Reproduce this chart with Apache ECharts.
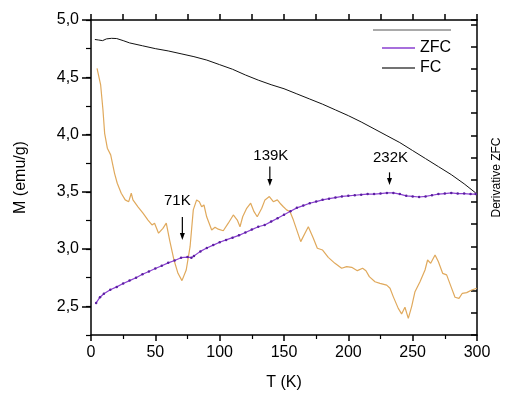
<!DOCTYPE html>
<html>
<head>
<meta charset="utf-8">
<script src="https://cdn.jsdelivr.net/npm/echarts@6/dist/echarts.min.js"></script>
<style>
  html, body { margin: 0; padding: 0; background: #fff; }
  #chart { width: 511px; height: 400px; }
</style>
</head>
<body>
<div id="chart"></div>
<script>
// ZFC magnetisation (emu/g) vs T (K)
var zfcTemp = [4, 7, 10, 15, 20, 25, 30, 35, 40, 45, 50, 55, 60, 65, 70, 75, 78, 80, 85, 90, 95, 100,
  105, 110, 115, 120, 125, 130, 135, 140, 145, 150, 155, 160, 165, 170, 175, 180, 185, 190, 195, 200,
  205, 210, 215, 220, 225, 230, 235, 240, 245, 250, 255, 260, 265, 270, 275, 280, 285, 290, 295, 299];
var zfcMag = [2.53, 2.58, 2.61, 2.645, 2.67, 2.70, 2.725, 2.75, 2.78, 2.805, 2.83, 2.855, 2.88, 2.90, 2.925, 2.93, 2.925, 2.94, 2.98, 3.01, 3.035, 3.06,
  3.08, 3.10, 3.12, 3.145, 3.17, 3.195, 3.21, 3.24, 3.27, 3.30, 3.33, 3.36, 3.38, 3.40, 3.415, 3.43, 3.44, 3.45, 3.46, 3.465,
  3.47, 3.475, 3.48, 3.48, 3.485, 3.49, 3.49, 3.48, 3.465, 3.46, 3.455, 3.46, 3.47, 3.48, 3.485, 3.49, 3.485, 3.485, 3.48, 3.48];

// FC magnetisation
var fcTemp = [3, 6, 9, 12, 16, 20, 25, 30, 40, 50, 60, 70, 80, 90, 100, 110, 120, 130, 140, 150,
  160, 170, 180, 190, 200, 210, 220, 230, 240, 250, 260, 270, 280, 290, 299];
var fcMag = [4.83, 4.825, 4.82, 4.835, 4.84, 4.838, 4.82, 4.80, 4.775, 4.75, 4.73, 4.705, 4.68, 4.65, 4.61, 4.57, 4.52, 4.475, 4.435, 4.40,
  4.355, 4.31, 4.265, 4.215, 4.165, 4.11, 4.05, 3.99, 3.93, 3.86, 3.79, 3.72, 3.65, 3.57, 3.49];

// derivative of ZFC (arbitrary units, right axis)
var derivTemp = [4.7, 7.5, 9.3, 10.6, 12.7, 15.3, 16.3, 18.3, 20.4, 23.5, 26.6, 29.3, 31.3, 32.6, 36.5, 40.4, 44.3, 47.4, 49.4,
  52.5, 55.9, 58.5, 61.1, 64.5, 67.6, 70.7, 74, 77, 79.5, 82.1, 84.2, 86, 87.8, 89.9, 93.8, 96.4, 98.9, 102.8,
  106.7, 110.6, 113.7, 115.8, 117.9, 121, 124.1, 126.7, 129.2, 132.7, 135.2, 138.6, 141.7, 144.8, 146.9, 149.5,
  152, 154.7, 157.3, 163, 166.3, 168.9, 172.8, 175.9, 180, 184.4, 189.6, 194.8, 198.7, 202.6, 207, 211.1, 213.7,
  216.3, 220.7, 224.6, 229.8, 232.4, 234.9, 238.8, 241.4, 244, 246.6, 249.2, 251.8, 255.7, 259.6, 261.6, 264,
  267.4, 270, 273.3, 276.4, 279.8, 282.9, 286, 288.6, 292, 295.9, 299.8];
var deriv = [12.02, 11.27, 10.14, 9.09, 8.42, 8.12, 8.04, 7.29, 6.84, 6.39, 6.09, 6.01, 6.39, 6.09, 5.78, 5.49, 5.18, 4.96, 5.04,
  4.59, 4.81, 5.04, 4.28, 3.38, 2.78, 2.45, 2.93, 3.98, 5.64, 6.09, 6.01, 5.78, 5.86, 5.33, 4.73, 4.86, 4.77, 4.70,
  5.04, 5.41, 5.18, 4.88, 5.33, 5.71, 5.94, 5.56, 5.33, 5.71, 6.09, 6.24, 6.01, 6.09, 5.94, 5.78,
  5.64, 5.56, 5.18, 4.21, 4.59, 4.88, 4.36, 3.91, 3.83, 3.50, 3.23, 3.01, 3.08, 3.05, 2.90, 3.01, 2.90,
  2.63, 2.40, 2.33, 2.25, 2.11, 1.73, 1.20, 0.95, 1.25, 0.75, 1.28, 1.95, 2.40, 2.93, 3.38, 3.23,
  3.61, 3.30, 2.78, 2.71, 2.18, 1.70, 1.65, 1.88, 1.91, 2.03, 2.11];

var xTicks = [0, 50, 100, 150, 200, 250, 300];
var yTicks = [2.5, 3.0, 3.5, 4.0, 4.5, 5.0];

// transition markers: temperature, label, arrow tip / tail and label height (emu/g)
var markTemp = [71, 139, 232];
var markLabel = ['71K', '139K', '232K'];
var markTip = [3.08, 3.55, 3.56];
var markTail = [3.28, 3.72, 3.67];
var markText = [3.42, 3.81, 3.80];

function pairs(xs, ys) {
  return xs.map(function (x, i) { return [x, ys[i]]; });
}

var font = 'Arial, "Liberation Sans", sans-serif';
var black = '#000';

var chart = echarts.init(document.getElementById('chart'));

var option = {
  animation: false,
  backgroundColor: '#fff',
  textStyle: { fontFamily: font, color: black },
  grid: { left: 91, right: 34, top: 20, bottom: 65 },
  legend: {
    orient: 'vertical',
    left: 377,
    top: 35,
    icon: 'rect',
    itemWidth: 33,
    itemHeight: 1.5,
    itemGap: 4,
    textStyle: { fontFamily: font, fontSize: 16, color: black },
    data: [
      { name: 'ZFC', itemStyle: { color: '#8a3fd0' } },
      { name: 'FC', itemStyle: { color: '#444' } }
    ]
  },
  xAxis: [{
    type: 'value',
    position: 'bottom',
    min: 0, max: 300, interval: 50,
    name: 'T (K)', nameLocation: 'middle', nameGap: 40,
    nameTextStyle: { fontSize: 16, fontFamily: font, color: black },
    axisLine: { onZero: false, lineStyle: { color: black, width: 1.5 } },
    axisTick: { length: 6, lineStyle: { color: black, width: 1.5 } },
    minorTick: { show: true, splitNumber: 2, length: 4, lineStyle: { color: black, width: 1.2 } },
    axisLabel: { fontSize: 16, color: black, margin: 10, customValues: xTicks },
    splitLine: { show: false }
  }, {
    type: 'value',
    position: 'top',
    min: 0, max: 300, interval: 25,
    axisLine: { onZero: false, lineStyle: { color: black, width: 1.5 } },
    axisTick: { length: 6, lineStyle: { color: black, width: 1.5 } },
    axisLabel: { show: false },
    splitLine: { show: false }
  }],
  yAxis: [{
    type: 'value',
    position: 'left',
    min: 2.25, max: 5, interval: 0.25,
    name: 'M (emu/g)', nameLocation: 'middle', nameGap: 62, nameRotate: 90,
    nameTextStyle: { fontSize: 16, fontFamily: font, color: black },
    axisLine: { show: true, onZero: false, lineStyle: { color: black, width: 1.5 } },
    axisTick: { show: true, length: 9, customValues: yTicks, lineStyle: { color: black, width: 1.5 } },
    axisLabel: {
      fontSize: 16, color: black, margin: 12, customValues: yTicks,
      formatter: function (v) { return v.toFixed(1).replace('.', ','); }
    },
    splitLine: { show: false }
  }, {
    // minor ticks of the left axis
    type: 'value',
    position: 'left',
    min: 2.25, max: 5, interval: 0.25,
    axisLine: { show: false, onZero: false },
    axisTick: { show: true, length: 5, lineStyle: { color: black, width: 1.2 } },
    axisLabel: { show: false },
    splitLine: { show: false }
  }, {
    type: 'value',
    position: 'right',
    min: 0, max: 14.2, interval: 1,
    name: 'Derivative ZFC', nameLocation: 'middle', nameGap: 14, nameRotate: 90,
    nameTextStyle: { fontSize: 12, fontFamily: font, color: black },
    axisLine: { show: true, onZero: false, lineStyle: { color: black, width: 1.5 } },
    axisTick: { show: true, inside: true, length: 6, lineStyle: { color: black, width: 1.5 } },
    axisLabel: { show: false },
    splitLine: { show: false }
  }],
  series: [{
    name: 'Derivative',
    type: 'line',
    yAxisIndex: 2,
    data: pairs(derivTemp, deriv),
    showSymbol: false,
    lineStyle: { color: '#e0a95c', width: 1.2 },
    itemStyle: { color: '#e0a95c' },
    z: 2
  }, {
    name: 'FC',
    type: 'line',
    yAxisIndex: 0,
    data: pairs(fcTemp, fcMag),
    showSymbol: false,
    lineStyle: { color: '#111', width: 1 },
    itemStyle: { color: '#111' },
    z: 3
  }, {
    name: 'ZFC',
    type: 'line',
    yAxisIndex: 0,
    data: pairs(zfcTemp, zfcMag),
    symbol: 'circle',
    symbolSize: 2.5,
    lineStyle: { color: '#8a3fd0', width: 1.2 },
    itemStyle: { color: '#5a1fa0' },
    z: 4
  }]
};

chart.setOption(option);

// legend top rule and transition arrows, placed from data coordinates
var graphics = [{
  type: 'line',
  shape: { x1: 373, y1: 30, x2: 451, y2: 30 },
  style: { stroke: '#555', lineWidth: 1 }
}];
markTemp.forEach(function (t, i) {
  var tip = chart.convertToPixel({ xAxisIndex: 0, yAxisIndex: 0 }, [t, markTip[i]]);
  var tail = chart.convertToPixel({ xAxisIndex: 0, yAxisIndex: 0 }, [t, markTail[i]]);
  var txt = chart.convertToPixel({ xAxisIndex: 0, yAxisIndex: 0 }, [t, markText[i]]);
  graphics.push({
    type: 'line',
    shape: { x1: tip[0], y1: tail[1], x2: tip[0], y2: tip[1] - 5 },
    style: { stroke: black, lineWidth: 1.2 }
  });
  graphics.push({
    type: 'polygon',
    shape: { points: [[tip[0] - 2.5, tip[1] - 7], [tip[0] + 2.5, tip[1] - 7], [tip[0], tip[1]]] },
    style: { fill: black }
  });
  graphics.push({
    type: 'text',
    x: txt[0] + (i === 0 ? -5 : 1),
    y: txt[1],
    style: { text: markLabel[i], font: '15px ' + font, fill: black, textAlign: 'center', textVerticalAlign: 'middle' }
  });
});
chart.setOption({ graphic: graphics });
</script>
</body>
</html>
